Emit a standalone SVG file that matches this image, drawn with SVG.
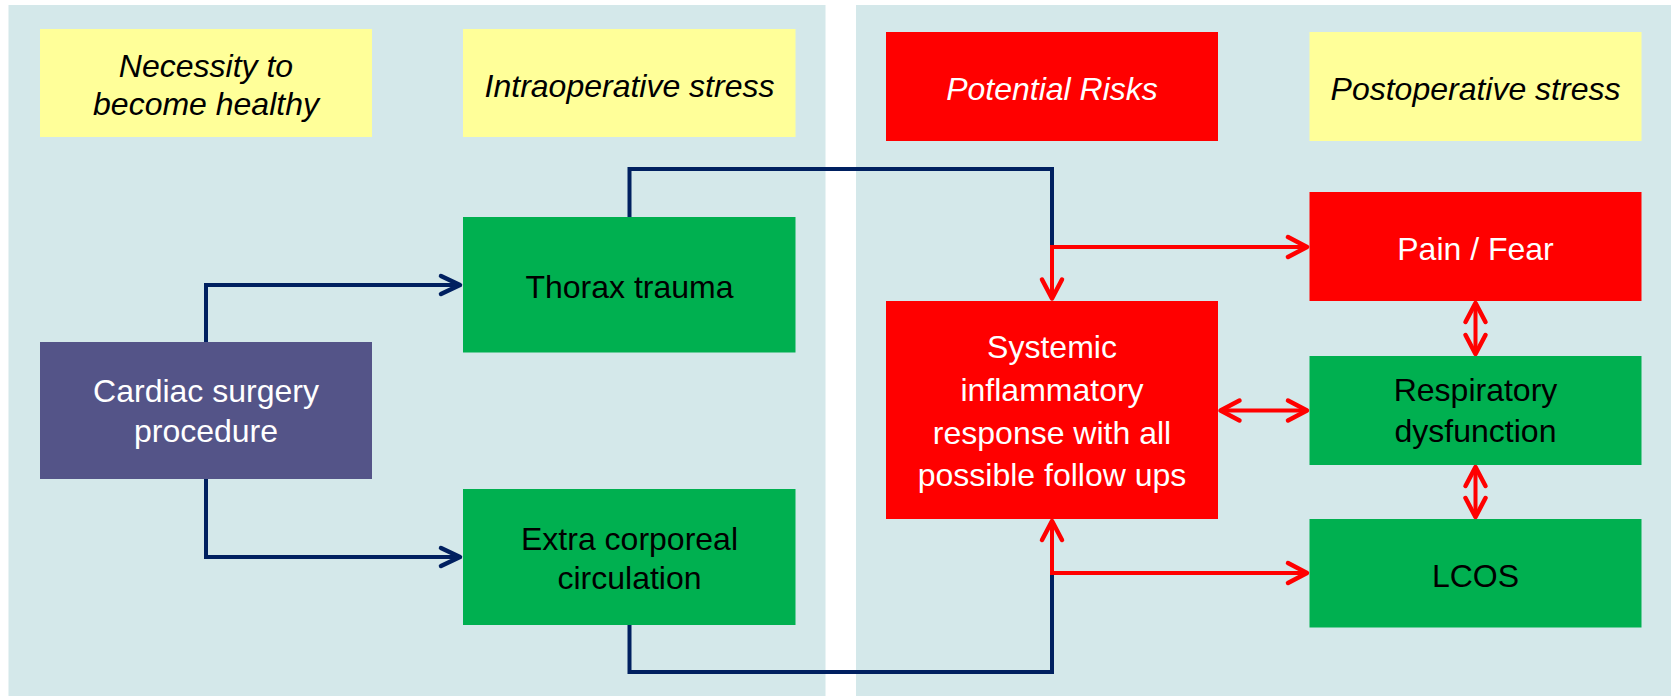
<svg xmlns="http://www.w3.org/2000/svg" width="1671" height="697" viewBox="0 0 1671 697">
<style>
.panel{fill:#D4E8EA}
.yel{fill:#FFFF99}
.grn{fill:#00B050}
.red{fill:#FF0000}
.pur{fill:#545488}
text{font-family:"Liberation Sans",Arial,sans-serif;font-size:32px;text-anchor:middle}
.it{font-style:italic}
.b{fill:#000}
.w{fill:#fff}
.navy{fill:none;stroke:#002060;stroke-width:4;stroke-linejoin:miter}
.rline{fill:none;stroke:#FF0000;stroke-width:4;stroke-linejoin:miter}
</style>
<defs>
<marker id="ahN" markerUnits="userSpaceOnUse" markerWidth="30" markerHeight="30" viewBox="-25 -15 30 30" refX="0" refY="0" orient="auto-start-reverse">
<path d="M-19,-9 L0,0 L-19,9" fill="none" stroke="#002060" stroke-width="4.5" stroke-linecap="round" stroke-linejoin="round"/>
</marker>
<marker id="ahR" markerUnits="userSpaceOnUse" markerWidth="30" markerHeight="30" viewBox="-25 -15 30 30" refX="0" refY="0" orient="auto-start-reverse">
<path d="M-19,-10 L0,0 L-19,10" fill="none" stroke="#FF0000" stroke-width="4.5" stroke-linecap="round" stroke-linejoin="round"/>
</marker>
</defs>
<rect width="1671" height="697" fill="#fff"/>
<rect class="panel" x="8.5" y="5" width="817" height="691"/>
<rect class="panel" x="856" y="5" width="815" height="691"/>

<g id="connectors">
<polyline class="navy" points="206,342 206,285 460,285" marker-end="url(#ahN)"/>
<polyline class="navy" points="206,479 206,557 460,557" marker-end="url(#ahN)"/>
<polyline class="navy" points="629.5,217 629.5,169 1052,169 1052,247"/>
<polyline class="navy" points="629.5,625 629.5,672 1052,672 1052,573"/>
<line class="rline" x1="1052" y1="245" x2="1052" y2="298.5" marker-end="url(#ahR)"/>
<line class="rline" x1="1050" y1="247" x2="1307" y2="247" marker-end="url(#ahR)"/>
<line class="rline" x1="1052" y1="575" x2="1052" y2="521" marker-end="url(#ahR)"/>
<line class="rline" x1="1050" y1="573" x2="1307" y2="573" marker-end="url(#ahR)"/>
<line class="rline" x1="1220.5" y1="410.5" x2="1307" y2="410.5" marker-start="url(#ahR)" marker-end="url(#ahR)"/>
<line class="rline" x1="1475.5" y1="303" x2="1475.5" y2="354" marker-start="url(#ahR)" marker-end="url(#ahR)"/>
<line class="rline" x1="1475.5" y1="467" x2="1475.5" y2="517" marker-start="url(#ahR)" marker-end="url(#ahR)"/>
</g>

<g id="necessity">
<rect class="yel" x="40" y="29" width="332" height="108"/>
<text class="it b" x="206" y="77">Necessity to</text>
<text class="it b" x="206" y="115">become healthy</text>
</g>
<g id="intraoperative">
<rect class="yel" x="463" y="29" width="332.5" height="108"/>
<text class="it b" x="629.5" y="97">Intraoperative stress</text>
</g>
<g id="potential-risks">
<rect class="red" x="886" y="32" width="332" height="109"/>
<text class="it w" x="1052" y="100">Potential Risks</text>
</g>
<g id="postoperative">
<rect class="yel" x="1309.5" y="32" width="332" height="109"/>
<text class="it b" x="1475.5" y="100">Postoperative stress</text>
</g>
<g id="thorax">
<rect class="grn" x="463" y="217" width="332.5" height="135.5"/>
<text class="b" x="629.5" y="298">Thorax trauma</text>
</g>
<g id="cardiac">
<rect class="pur" x="40" y="342" width="332" height="137"/>
<text class="w" x="206" y="402">Cardiac surgery</text>
<text class="w" x="206" y="442">procedure</text>
</g>
<g id="extra">
<rect class="grn" x="463" y="489" width="332.5" height="136"/>
<text class="b" x="629.5" y="550">Extra corporeal</text>
<text class="b" x="629.5" y="589">circulation</text>
</g>
<g id="systemic">
<rect class="red" x="886" y="301" width="332" height="218"/>
<text class="w" x="1052" y="358">Systemic</text>
<text class="w" x="1052" y="401">inflammatory</text>
<text class="w" x="1052" y="443.5">response with all</text>
<text class="w" x="1052" y="486">possible follow ups</text>
</g>
<g id="pain">
<rect class="red" x="1309.5" y="192" width="332" height="109"/>
<text class="w" x="1475.5" y="260">Pain / Fear</text>
</g>
<g id="respiratory">
<rect class="grn" x="1309.5" y="356" width="332" height="109"/>
<text class="b" x="1475.5" y="401">Respiratory</text>
<text class="b" x="1475.5" y="442">dysfunction</text>
</g>
<g id="lcos">
<rect class="grn" x="1309.5" y="519" width="332" height="108.5"/>
<text class="b" x="1475.5" y="587">LCOS</text>
</g>
</svg>
